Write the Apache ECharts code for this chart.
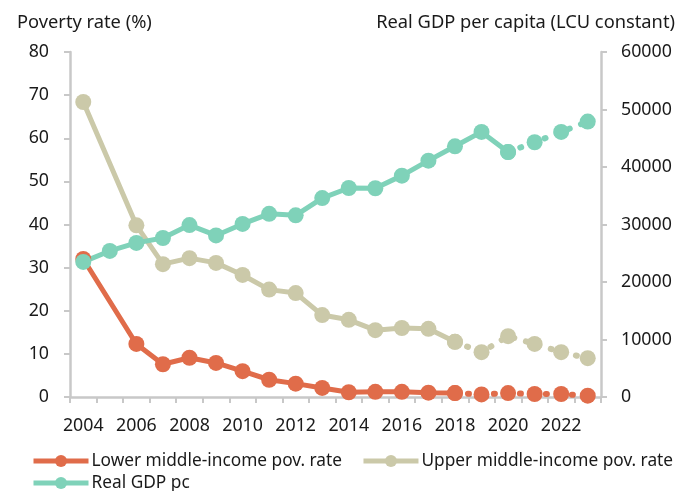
<!DOCTYPE html>
<html><head><meta charset="utf-8">
<script src="https://cdn.jsdelivr.net/npm/echarts@6/dist/echarts.min.js"></script>
<style>html,body{margin:0;padding:0;background:#fff}#c{width:693px;height:491px}</style>
</head><body><div id="c"></div>
<script>
const years = ['2004','2005','2006','2007','2008','2009','2010','2011','2012','2013','2014','2015','2016','2017','2018','2019','2020','2021','2022','2023'];
const lowerRate = [32.0, null, 12.3, 7.6, 9.1, 7.9, 6.0, 4.0, 3.1, 2.1, 1.1, 1.2, 1.2, 1.0, 0.9, 0.6, 0.9, 0.7, 0.7, 0.3];
const upperRate = [68.4, null, 39.8, 30.8, 32.2, 31.1, 28.3, 24.9, 24.1, 19.0, 17.9, 15.5, 16.0, 15.8, 12.8, 10.4, 14.1, 12.3, 10.4, 9.0];
const gdpPc = [23500, 25400, 26800, 27650, 29900, 28100, 30100, 31850, 31600, 34600, 36350, 36300, 38500, 41100, 43600, 46100, 42600, 44300, 46100, 47900];
const leftTicks = [0, 80, 10];
const rightTicks = [0, 60000, 10000];
const names = ['Lower middle-income pov. rate', 'Upper middle-income pov. rate', 'Real GDP pc'];
const colors = ['#E06C4A', '#CBC9A9', '#7FD2B9'];

function split(arr, lastSolid) {
  const solid = arr.map((v, i) => i <= lastSolid ? v : null);
  const dotted = arr.map((v, i) => i >= lastSolid ? v : null);
  return [solid, dotted];
}
const font = 'Noto Sans';
const txt = '#1a1a1a';
const [lowS, lowD] = split(lowerRate, 14);
const [upS, upD] = split(upperRate, 14);
const [gS, gD] = split(gdpPc, 16);

function mk(name, data, color, yIdx, dotted) {
  return {
    name: name, type: 'line', yAxisIndex: yIdx, data: data,
    connectNulls: true, symbol: 'circle', symbolSize: 16, showSymbol: true, showAllSymbol: true,
    itemStyle: { color: color },
    lineStyle: dotted ? { color: color, width: 6, type: [1, 12], cap: 'round' } : { color: color, width: 5 },
    emphasis: { disabled: true }, animation: false
  };
}
const legendText = { fontFamily: font, fontSize: 17.3, color: txt, padding: [0, 0, 0, -2], lineHeight: 22 };
const legendBase = { itemWidth: 55, itemHeight: 15, itemGap: 19, textStyle: legendText, padding: 0, lineStyle: { width: 5 } };

const chart = echarts.init(document.getElementById('c'));
chart.setOption({
  animation: false,
  textStyle: { fontFamily: font },
  grid: { left: 70, right: 92, top: 52, bottom: 94, containLabel: false, outerBoundsMode: 'none' },
  legend: [
    Object.assign({ data: names.slice(0, 2), left: 31, top: 450 }, legendBase),
    Object.assign({ data: names.slice(2), left: 31, top: 472 }, legendBase)
  ],
  xAxis: {
    type: 'category', data: years, boundaryGap: true,
    axisLine: { lineStyle: { color: '#C8C8C8', width: 2.5 } },
    axisTick: { show: true, length: 6, interval: 0, lineStyle: { color: '#C8C8C8', width: 2 } },
    axisLabel: { interval: 1, color: txt, fontSize: 17.8, fontFamily: font, margin: 20 }
  },
  yAxis: [
    {
      type: 'value', min: leftTicks[0], max: leftTicks[1], interval: leftTicks[2],
      name: 'Poverty rate (%)', nameLocation: 'end', nameGap: 20,
      nameTextStyle: { align: 'left', padding: [0, 0, 0, -53], fontSize: 18.3, color: txt, fontFamily: font },
      axisLine: { show: true, lineStyle: { color: '#C8C8C8', width: 2.5 } },
      axisTick: { show: true, length: 6, lineStyle: { color: '#C8C8C8', width: 2 } },
      axisLabel: { color: txt, fontSize: 17.8, fontFamily: font, margin: 21 },
      splitLine: { show: false }
    },
    {
      type: 'value', min: rightTicks[0], max: rightTicks[1], interval: rightTicks[2],
      name: 'Real GDP per capita (LCU constant)', nameLocation: 'end', nameGap: 20,
      nameTextStyle: { align: 'right', padding: [0, -74, 0, 0], fontSize: 18.3, color: txt, fontFamily: font },
      axisLine: { show: true, lineStyle: { color: '#C8C8C8', width: 2.5 } },
      axisTick: { show: true, length: 6, lineStyle: { color: '#C8C8C8', width: 2 } },
      axisLabel: { color: txt, fontSize: 17.8, fontFamily: font, margin: 20, formatter: v => String(v) },
      splitLine: { show: false }
    }
  ],
  series: [
    mk(names[0], lowS, colors[0], 0, false),
    mk('low_proj', lowD, colors[0], 0, true),
    mk(names[1], upS, colors[1], 0, false),
    mk('up_proj', upD, colors[1], 0, true),
    mk(names[2], gS, colors[2], 1, false),
    mk('gdp_proj', gD, colors[2], 1, true)
  ]
});
</script></body></html>
